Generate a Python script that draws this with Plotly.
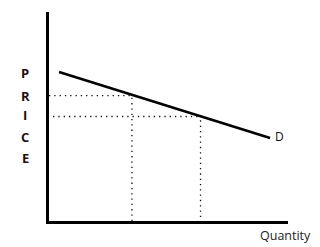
import plotly.graph_objects as go

# Demand curve (quantity, price) in chart units
demand_q = [0.42, 9.25]
demand_p = [7.13, 3.97]

# Two price/quantity points on the demand curve
point_q = [3.47, 6.34]
point_p = [6.0, 5.0]
# where the dotted guide lines begin (horizontal) / end (vertical)
guide_h_start = [0.0, 0.17]
guide_v_start = [0.0, 0.19]

price_letters = ["P", "R", "I", "C", "E"]
price_letter_y = [7.06, 6.0, 5.05, 4.0, 3.0]  # y positions in price units

fig = go.Figure()

# dotted guides
for q, p, hs, vs in zip(point_q, point_p, guide_h_start, guide_v_start):
    fig.add_trace(go.Scatter(x=[hs, q], y=[p, p], mode="lines",
                             line=dict(color="#111111", width=1.3, dash="1.3px,4px"),
                             hoverinfo="skip", showlegend=False))
    fig.add_trace(go.Scatter(x=[q, q], y=[vs, p], mode="lines",
                             line=dict(color="#111111", width=1.3, dash="1.3px,4px"),
                             hoverinfo="skip", showlegend=False))

# demand line
fig.add_trace(go.Scatter(x=demand_q, y=demand_p, mode="lines",
                         line=dict(color="black", width=2.6),
                         hoverinfo="skip", showlegend=False))

annotations = [
    dict(x=demand_q[-1] + 0.13, y=demand_p[-1] + 0.05, xref="x", yref="y",
         text="D", showarrow=False, xanchor="left", yanchor="middle",
         font=dict(family="Open Sans", size=12, color="#111111")),
    dict(x=1.105, y=-0.067, xref="paper", yref="paper", text="Quantity",
         showarrow=False, xanchor="right", yanchor="middle",
         font=dict(family="Open Sans", size=12.5, color="#222222")),
]
for letter, ly in zip(price_letters, price_letter_y):
    annotations.append(dict(x=-0.1, y=ly, xref="paper", yref="y", text="<b>" + letter + "</b>",
                            showarrow=False, xanchor="center", yanchor="middle",
                            font=dict(family="Open Sans", size=13, color="#1e1010")))

fig.update_layout(
    width=320, height=247,
    margin=dict(l=49, r=32, t=12, b=26),
    paper_bgcolor="white", plot_bgcolor="white",
    xaxis=dict(range=[0, 10], showgrid=False, zeroline=False, showticklabels=False,
               ticks="", showline=True, linecolor="black", linewidth=3, fixedrange=True),
    yaxis=dict(range=[0, 10], showgrid=False, zeroline=False, showticklabels=False,
               ticks="", showline=True, linecolor="black", linewidth=3, fixedrange=True),
    annotations=annotations,
)

fig.write_html("out.html")
